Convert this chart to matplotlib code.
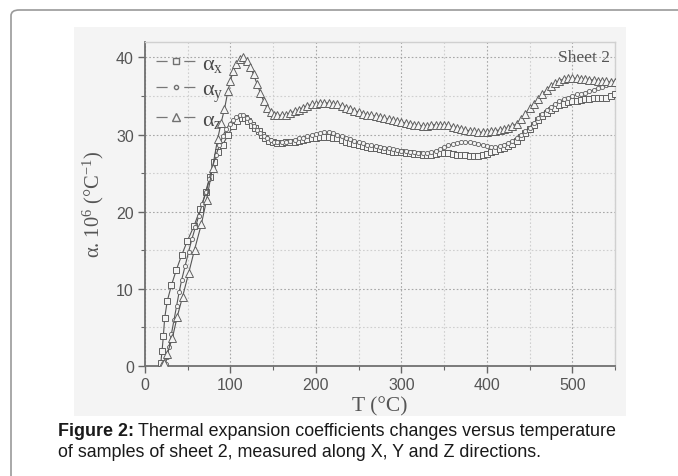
import matplotlib
matplotlib.use("Agg")
import matplotlib.pyplot as plt
from matplotlib.patches import FancyBboxPatch, Rectangle
from matplotlib.lines import Line2D
from matplotlib.ticker import MultipleLocator

plt.rcParams['mathtext.fontset'] = 'custom'
plt.rcParams['mathtext.rm'] = 'Liberation Serif'
plt.rcParams['mathtext.it'] = 'Liberation Serif:italic'
plt.rcParams['lines.scale_dashes'] = False

# ---------------- data ----------------
tx = [18.5, 20, 21.5, 23, 26, 31, 36.5, 43, 49.5, 57.5, 64.5, 71.5, 76, 81, 86, 91, 97, 103,
      108, 113, 117, 121, 125, 129, 133, 137, 141, 145,
      150, 155, 160, 165, 170, 175, 180, 185, 190, 195, 200, 205, 210, 215, 220, 225, 230, 235,
      240, 245, 250, 255, 260, 265, 270, 275, 280, 285, 290, 295, 300, 305, 310, 315, 320, 325,
      330, 335, 340, 345, 350, 355, 360, 365, 370, 375, 380, 385, 390, 395, 400, 405, 410, 415,
      420, 425, 430, 435, 440, 445, 450, 455, 460, 465, 470, 475, 480, 485, 490, 495, 500, 505,
      510, 515, 520, 525, 530, 535, 540, 545, 550]
ax_vals = [0.4, 2.0, 3.9, 6.2, 8.4, 10.5, 12.4, 14.4, 16.2, 18.2, 20.3, 22.5, 24.5, 26.4, 27.7,
           28.7, 29.9, 31.1, 31.8, 32.2, 32.2, 31.8, 31.3, 30.8, 30.4, 30.0, 29.6, 29.2,
           29.0, 28.9, 28.9, 29.0, 29.1, 29.1, 29.2, 29.3, 29.4, 29.5, 29.6, 29.7, 29.7, 29.7,
           29.6, 29.5, 29.3, 29.1, 28.9, 28.8, 28.6, 28.5, 28.4, 28.3, 28.2, 28.1, 28.0, 27.9,
           27.8, 27.8, 27.7, 27.6, 27.6, 27.5, 27.5, 27.4, 27.4, 27.4, 27.5, 27.6, 27.6, 27.6,
           27.5, 27.4, 27.3, 27.3, 27.2, 27.2, 27.2, 27.3, 27.5, 27.7, 27.9, 28.1, 28.3, 28.5,
           28.8, 29.2, 29.7, 30.2, 30.7, 31.3, 31.9, 32.4, 32.8, 33.2, 33.5, 33.8, 34.0, 34.2,
           34.3, 34.4, 34.5, 34.6, 34.6, 34.7, 34.7, 34.8, 34.8, 35.0, 35.2]

ty = [24, 26, 28, 31, 34, 37, 40, 43, 47, 51, 55, 59, 63, 67, 71, 75, 79, 83, 87, 91, 95, 99,
      103, 107, 111, 115, 119, 123, 127, 131, 135, 139, 143, 147, 151, 155,
      160, 165, 170, 175, 180, 185, 190, 195, 200, 205, 210, 215, 220, 225, 230, 235, 240, 245,
      250, 255, 260, 265, 270, 275, 280, 285, 290, 295, 300, 305, 310, 315, 320, 325, 330, 335,
      340, 345, 350, 355, 360, 365, 370, 375, 380, 385, 390, 395, 400, 405, 410, 415, 420, 425,
      430, 435, 440, 445, 450, 455, 460, 465, 470, 475, 480, 485, 490, 495, 500, 505, 510, 515,
      520, 525, 530, 535, 540, 545, 550]
ay_vals = [0.3, 1.2, 2.5, 4.2, 6.0, 7.8, 9.6, 11.2, 13.0, 14.8, 16.5, 18.0, 19.5, 21.0, 22.6,
           24.2, 25.8, 27.3, 28.6, 29.8, 30.7, 31.4, 31.9, 32.3, 32.5, 32.5, 32.2, 31.7, 31.1,
           30.6, 30.2, 29.8, 29.5, 29.3, 29.1, 29.0,
           29.0, 29.1, 29.2, 29.3, 29.5, 29.6, 29.8, 29.9, 30.1, 30.2, 30.3, 30.3, 30.2, 30.0,
           29.8, 29.6, 29.4, 29.2, 29.0, 28.9, 28.7, 28.6, 28.5, 28.4, 28.3, 28.2, 28.1, 28.0,
           27.9, 27.9, 27.8, 27.7, 27.6, 27.6, 27.6, 27.7, 27.9, 28.1, 28.4, 28.6, 28.8, 28.9,
           29.0, 29.0, 29.0, 28.9, 28.8, 28.6, 28.5, 28.4, 28.4, 28.5, 28.7, 28.9, 29.2, 29.5,
           29.9, 30.4, 30.9, 31.5, 32.1, 32.7, 33.2, 33.6, 34.0, 34.3, 34.6, 34.8, 35.0, 35.2,
           35.3, 35.4, 35.6, 35.8, 36.0, 36.2, 36.4, 36.6, 36.8]

tz = [20, 22, 26, 32, 37.5, 44, 51, 58, 66, 72, 79, 85, 89, 93, 97, 100, 103, 107, 111, 115,
      119, 123, 127, 131, 135, 139, 143, 147, 151, 155,
      160, 165, 170, 175, 180, 185, 190, 195, 200, 205, 210, 215, 220, 225, 230, 235, 240, 245,
      250, 255, 260, 265, 270, 275, 280, 285, 290, 295, 300, 305, 310, 315, 320, 325, 330, 335,
      340, 345, 350, 355, 360, 365, 370, 375, 380, 385, 390, 395, 400, 405, 410, 415, 420, 425,
      430, 435, 440, 445, 450, 455, 460, 465, 470, 475, 480, 485, 490, 495, 500, 505, 510, 515,
      520, 525, 530, 535, 540, 545, 550]
az_vals = [0.1, 0.4, 1.6, 3.6, 6.3, 9.0, 12.0, 15.1, 18.4, 21.5, 25.7, 29.4, 31.5, 33.3, 35.6,
           37.0, 38.2, 39.2, 39.8, 40.0, 39.6, 38.8, 37.8, 36.6, 35.4, 34.3, 33.4, 32.9, 32.6,
           32.5,
           32.5, 32.6, 32.8, 33.0, 33.2, 33.5, 33.7, 33.9, 34.0, 34.1, 34.1, 34.1, 34.0, 33.9,
           33.7, 33.5, 33.3, 33.1, 32.9, 32.7, 32.6, 32.5, 32.4, 32.3, 32.1, 32.0, 31.9, 31.7,
           31.6, 31.5, 31.4, 31.3, 31.2, 31.1, 31.1, 31.2, 31.3, 31.3, 31.3, 31.2, 31.0, 30.9,
           30.7, 30.6, 30.5, 30.4, 30.3, 30.3, 30.3, 30.4, 30.5, 30.6, 30.7, 30.9, 31.1, 31.4,
           32.0, 32.7, 33.4, 34.0, 34.6, 35.2, 35.8, 36.3, 36.7, 37.0, 37.2, 37.3, 37.3, 37.3,
           37.2, 37.2, 37.1, 37.1, 37.0, 37.0, 36.9, 36.8, 36.8]

x_ticks = [0, 100, 200, 300, 400, 500]
y_ticks = [0, 10, 20, 30, 40]
legend_labels = ["α$_\\mathrm{x}$", "α$_\\mathrm{y}$", "α$_\\mathrm{z}$"]

# ---------------- figure ----------------
W, H = 678, 477
fig = plt.figure(figsize=(W / 100, H / 100), dpi=100)
fig.patch.set_facecolor('white')

# outer frame (top and left border with rounded corner)
frame = FancyBboxPatch((11 / W, -0.2), 1.2, (H - 11) / H + 0.2,
                       boxstyle="round,pad=0,rounding_size=0.012",
                       transform=fig.transFigure, fill=False,
                       edgecolor='#9a9a9a', linewidth=1.2, zorder=0)
fig.patches.append(frame)

# gray picture area
bgc = '#f4f4f4'
fig.patches.append(Rectangle((74 / W, 1 - 417 / H), (626 - 74) / W, (417 - 28) / H,
                             transform=fig.transFigure, facecolor=bgc,
                             edgecolor='none', zorder=0))

ax = fig.add_axes([145 / W, 1 - 367 / H, (615 - 145) / W, (367 - 43) / H])
ax.set_zorder(2)
ax.set_facecolor(bgc)

lc = '#555555'
ax.plot(tx, ax_vals, '-', color=lc, lw=0.8, marker='s', ms=5.0, mfc=bgc, mec='#606060', mew=0.7, zorder=3)
ax.plot(ty, ay_vals, '-', color=lc, lw=0.8, marker='o', ms=3.0, mfc=bgc, mec='#606060', mew=0.6, zorder=3)
ax.plot(tz, az_vals, '-', color=lc, lw=0.8, marker='^', ms=5.8, mfc=bgc, mec='#606060', mew=0.7, zorder=3)

ax.set_xlim(0, 550)
ax.set_ylim(0, 42)
ax.set_xticks(x_ticks)
ax.set_yticks(y_ticks)
ax.xaxis.set_minor_locator(MultipleLocator(50))
ax.yaxis.set_minor_locator(MultipleLocator(5))
ax.grid(True, which='major', linestyle=(0, (1.2, 1.5)), color='#a8a8a8', lw=0.8)
ax.grid(True, which='minor', linestyle=(0, (1.2, 1.5)), color='#cfcfcf', lw=0.8)
ax.set_axisbelow(True)

for lab in ax.get_xticklabels() + ax.get_yticklabels():
    lab.set_fontfamily('Liberation Sans')
    lab.set_fontsize(11.5)
ax.tick_params(which='major', direction='out', length=5, width=1.0, color='#666666',
               labelcolor='#555555', pad=3)
ax.tick_params(which='minor', direction='out', length=3, width=0.8, color='#666666')

for s in ['left', 'bottom']:
    ax.spines[s].set_color('#707070')
    ax.spines[s].set_linewidth(1.3)
for s in ['top', 'right']:
    ax.spines[s].set_color('#d0d0d0')
    ax.spines[s].set_linewidth(1.0)

ax.set_xlabel('T (°C)', family='Liberation Serif', size=15.5, color='#555555', labelpad=2.5)
ax.set_ylabel('α. 10$^{6}$ (°C$^{-1}$)', family='Liberation Serif', size=14.8,
              color='#555555', labelpad=7)

ax.text(0.99, 0.955, 'Sheet 2', transform=ax.transAxes, ha='right', va='center',
        family='Liberation Serif', size=12.5, color='#555555')

handles = [
    Line2D([], [], color='#777777', lw=0.9, dashes=(8, 12), marker='s', ms=5.0, mfc=bgc, mec='#707070'),
    Line2D([], [], color='#777777', lw=0.9, dashes=(8, 12), marker='o', ms=3.0, mfc=bgc, mec='#707070'),
    Line2D([], [], color='#777777', lw=0.9, dashes=(8, 12), marker='^', ms=5.8, mfc=bgc, mec='#707070'),
]
leg = ax.legend(handles, legend_labels, loc='upper left', frameon=False,
                handlelength=1.75, handletextpad=0.3, labelspacing=0.25,
                borderaxespad=0.3, borderpad=0.2, prop=dict(family='Liberation Serif', size=16),
                labelcolor='#4a4a4a')
leg.set_zorder(1)

# caption
fig.canvas.draw()
renderer = fig.canvas.get_renderer()
cap_font = 'Liberation Sans'
cs = 12.9
t1 = fig.text(58 / W, 1 - 432 / H, 'Figure 2:', family=cap_font, size=cs,
              weight='bold', va='center', ha='left', color='#1a1a1a')
bb = t1.get_window_extent(renderer=renderer)
x2 = (bb.x1 + 4) / W
fig.text(x2, 1 - 432 / H, 'Thermal expansion coefficients changes versus temperature',
         family=cap_font, size=cs, va='center', ha='left', color='#1a1a1a')
fig.text(58 / W, 1 - 453 / H, 'of samples of sheet 2, measured along X, Y and Z directions.',
         family=cap_font, size=cs, va='center', ha='left', color='#1a1a1a')

fig.savefig('out.png', dpi=100, facecolor='white')
